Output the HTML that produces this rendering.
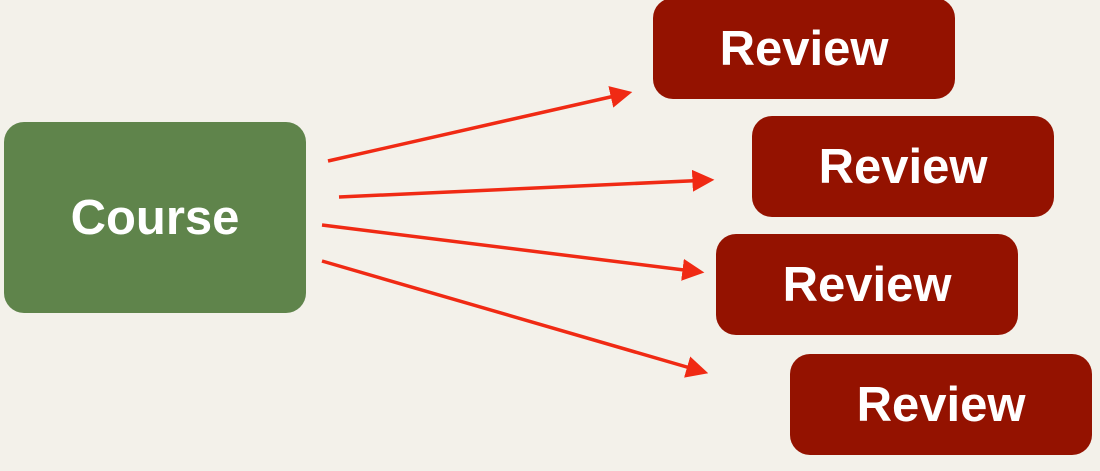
<!DOCTYPE html>
<html><head><meta charset="utf-8"><style>
html,body{margin:0;padding:0;}
body{width:1100px;height:471px;background:#f3f1ea;position:relative;overflow:hidden;font-family:"Liberation Sans",sans-serif;}
.box{position:absolute;display:flex;align-items:center;justify-content:center;color:#fff;font-weight:bold;box-sizing:border-box;}
.course{left:4px;top:122px;width:302px;height:191px;background:#5f844b;border-radius:20px;font-size:49px;}
.review{width:302px;height:101px;background:#941200;border-radius:20px;font-size:49px;}
svg{position:absolute;left:0;top:0;}
</style></head><body>
<div class="box course">Course</div>
<div class="box review" style="left:653px;top:-2px;">Review</div>
<div class="box review" style="left:752px;top:116px;">Review</div>
<div class="box review" style="left:716px;top:234px;">Review</div>
<div class="box review" style="left:790px;top:354px;">Review</div>
<svg width="1100" height="471">
<defs><marker id="ah" markerWidth="22" markerHeight="22" refX="8" refY="5" orient="auto" markerUnits="userSpaceOnUse" viewBox="0 0 10 10">
<path d="M0,0 L10,5 L0,10 z" fill="#f02a14"/></marker></defs>
<g stroke="#f02a14" stroke-width="3.5" fill="none">
<line x1="328" y1="161" x2="628" y2="93" marker-end="url(#ah)"/>
<line x1="339" y1="197" x2="710" y2="180" marker-end="url(#ah)"/>
<line x1="322" y1="225" x2="700" y2="272" marker-end="url(#ah)"/>
<line x1="322" y1="261" x2="704" y2="372" marker-end="url(#ah)"/>
</g>
</svg>
</body></html>
